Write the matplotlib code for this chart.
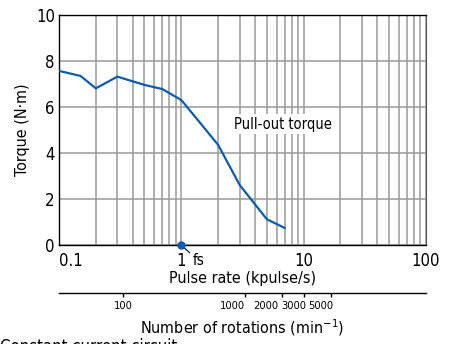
import matplotlib
matplotlib.use("Agg")
import matplotlib.pyplot as plt
from matplotlib.ticker import FixedLocator, NullFormatter
from matplotlib.transforms import ScaledTranslation

plt.rcParams['font.family'] = ['DejaVu Sans']
plt.rcParams['font.stretch'] = 'condensed'

# pull-out torque curve
pulse_rate = [0.1, 0.15, 0.2, 0.3, 0.5, 0.7, 1.0, 1.4, 2.0, 3.0, 5.0, 7.0]   # kpulse/s
torque = [7.57, 7.35, 6.81, 7.32, 6.96, 6.78, 6.30, 5.36, 4.35, 2.61, 1.12, 0.74]  # N·m

x_ticks = [0.1, 1, 10, 100]
x_ticklabels = ['0.1', '1', '10', '100']
y_ticks = [0, 2, 4, 6, 8, 10]
rpm_ticks = [100, 1000, 2000, 3000, 5000]
fs_rate = 1.0
rpm_per_kpps = 300.0

blue = '#0b5db0'
grid_col = '#9a9a9a'

fig = plt.figure(figsize=(4.51, 3.44), dpi=100)
ax = fig.add_axes([0.1308, 0.2878, 0.8137, 0.6686])

ax.set_xscale('log')
ax.set_xlim(0.1, 100)
ax.set_ylim(0, 10)

ax.plot(pulse_rate, torque, color=blue, lw=1.6, zorder=3)

ax.set_xticks(x_ticks)
ax.set_xticklabels(x_ticklabels, fontsize=12)
ax.xaxis.set_minor_formatter(NullFormatter())
ax.set_yticks(y_ticks)
ax.set_yticklabels([str(v) for v in y_ticks], fontsize=12)
ax.tick_params(axis='x', which='both', length=0, pad=5)
ax.tick_params(axis='y', which='both', length=0, pad=3)
ax.get_xticklabels()[0].set_horizontalalignment('left')

ax.grid(True, which='major', color=grid_col, lw=1.1)
ax.grid(True, which='minor', axis='x', color=grid_col, lw=1.1)
ax.set_axisbelow(True)

for side in ['left', 'bottom', 'top']:
    ax.spines[side].set_color('black')
    ax.spines[side].set_linewidth(1.0)
ax.spines['right'].set_color('#555555')

ax.set_xlabel('Pulse rate (kpulse/s)', fontsize=11.5, labelpad=1)
ax.set_ylabel('Torque (N·m)', fontsize=11.5, labelpad=4)

ax.text(2.7, 5.26, 'Pull-out torque', fontsize=10.5, va='center', ha='left',
        bbox=dict(facecolor='white', edgecolor='none', pad=1.5), zorder=4)

# starting pulse rate marker
ax.plot([fs_rate], [0], 'o', color=blue, ms=5, clip_on=False, zorder=5)
ax.annotate('fs', xy=(fs_rate, 0), xytext=(8, -6), textcoords='offset points',
            fontsize=11, va='top', ha='left',
            arrowprops=dict(arrowstyle='-', color='black', lw=0.8,
                            shrinkA=0, shrinkB=0))

# rotation speed scale under the pulse rate axis
sec = ax.secondary_xaxis(-0.209, functions=(lambda x: x * rpm_per_kpps,
                                            lambda r: r / rpm_per_kpps))
sec.xaxis.set_major_locator(FixedLocator(rpm_ticks))
sec.xaxis.set_minor_locator(FixedLocator([]))
sec.set_xticklabels([str(v) for v in rpm_ticks], fontsize=8)
sec.tick_params(axis='x', direction='out', length=3, width=1, pad=3)
# the thousands labels sit a little left of their ticks
label_shift_px = [0, -13, -16, -10, -10]
for lbl, dx in zip(sec.get_xticklabels(), label_shift_px):
    lbl.set_transform(lbl.get_transform() + ScaledTranslation(dx / 100, 0, fig.dpi_scale_trans))
sec.spines['bottom'].set_linewidth(1.0)
sec.set_xlabel('Number of rotations (min$^{-1}$)', fontsize=11.5, labelpad=4)

fig.text(0.0, 0.018, 'Constant current circuit', fontsize=12, va='top', ha='left')

fig.savefig('out.png', dpi=100)
